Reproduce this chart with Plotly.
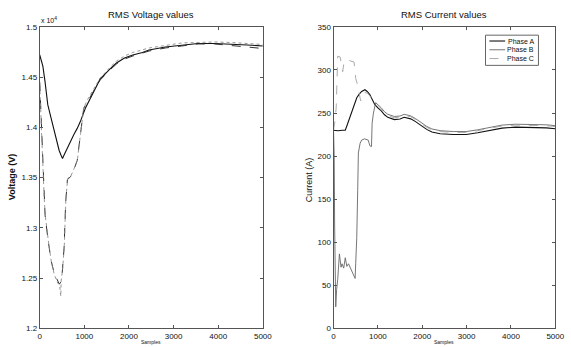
import plotly.graph_objects as go

# ---------------- Data ----------------
# Voltage (V)
va_x = [0, 30, 70, 120, 180, 250, 325, 400, 435, 480, 510, 540, 580, 620, 700, 765, 840, 912, 1022, 1205,
        1352, 1571, 1718, 1900, 2084, 2300, 2450, 2817, 3183, 3549, 3916, 4282, 4648, 5000]
va_y = [14720, 14680, 14610, 14450, 14226, 14100, 13960, 13830, 13770, 13720, 13690, 13720, 13760, 13800,
        13870, 13930, 13990, 14060, 14190, 14350, 14480, 14580, 14640, 14690, 14720, 14745, 14770, 14800,
        14820, 14835, 14835, 14830, 14820, 14810]

vb_x = [0, 20, 60, 90, 100, 120, 180, 253, 325, 400, 440, 472, 490, 510, 545, 582, 620, 692, 765, 840,
        912, 950, 985, 1100, 1205, 1352, 1571, 1718, 1900, 2084, 2450, 2817, 3183, 3549, 3916, 4282,
        4648, 5000]
vb_y = [14450, 14200, 13700, 13450, 13260, 13125, 12900, 12680, 12545, 12464, 12440, 12460, 12480, 12590,
        12800, 13257, 13480, 13510, 13580, 13670, 13930, 14060, 14190, 14280, 14360, 14470, 14570, 14630,
        14680, 14710, 14760, 14790, 14810, 14830, 14830, 14815, 14800, 14785]

vc_x = [0, 20, 60, 90, 110, 130, 190, 260, 330, 405, 445, 472, 480, 515, 550, 585, 625, 700, 770, 845,
        915, 955, 990, 1100, 1205, 1352, 1571, 1718, 1900, 2084, 2450, 2817, 3183, 3549, 3916, 4282,
        4648, 5000]
vc_y = [14420, 14150, 13650, 13400, 13220, 13100, 12880, 12660, 12530, 12450, 12430, 12320, 12470, 12600,
        12820, 13280, 13490, 13520, 13590, 13680, 13940, 14070, 14200, 14300, 14375, 14490, 14595, 14660,
        14710, 14745, 14790, 14815, 14840, 14845, 14850, 14845, 14835, 14825]

# Current (A)
ia_x = [0, 100, 200, 265, 300, 340, 413, 470, 524, 580, 635, 708, 760, 818, 870, 929, 1000, 1077, 1150,
        1224, 1372, 1500, 1593, 1740, 1850, 1962, 2100, 2219, 2405, 2700, 2993, 3250, 3510, 3800, 4100,
        4544, 4800, 5000]
ia_y = [230, 229.5, 230, 230, 235, 241, 252.6, 262, 267.7, 272, 275, 277, 275, 271.5, 266, 260, 256,
        252.6, 248, 245, 242.4, 243, 245, 243.2, 240, 235.6, 231, 228, 226, 225, 225, 227, 230, 232.5,
        233.6, 233.6, 232.8, 231.8]

ib_x = [0, 15, 25, 35, 50, 70, 95, 133, 170, 192, 230, 265, 300, 338, 400, 453, 487, 500, 524, 545, 560,
        600, 635, 700, 782, 820, 856, 870, 900, 950, 1000, 1077, 1150, 1224, 1372, 1500, 1593, 1740, 1850,
        1962, 2100, 2219, 2405, 2700, 2993, 3250, 3510, 3800, 4100, 4544, 4800, 5000]
ib_y = [230, 200, 120, 30, 25, 45, 57, 86.5, 71, 75, 70, 82, 72, 75, 68, 60, 58, 75, 105.4, 160, 203.6,
        215, 218.6, 220, 218.6, 212, 211, 238, 250, 262, 260, 256, 251.5, 248.5, 246, 246.5, 248.5, 246.7,
        243.5, 239, 234.5, 231.5, 229.5, 228.5, 228.5, 230.5, 233.5, 236, 237, 237, 236.3, 235.3]

ic_x = [0, 30, 60, 95, 150, 206, 243, 354, 464, 502, 540, 612, 660, 700, 760, 818, 870, 929, 1000, 1077,
        1150, 1224, 1372, 1500, 1593, 1740, 1850, 1962, 2100, 2219, 2405, 2700, 2993, 3250, 3510, 3800,
        4100, 4544, 4800, 5000]
ic_y = [230, 240, 256, 316, 315, 298, 311, 311, 309, 290, 283, 264, 270, 274, 273, 270, 266, 261, 257.5,
        254, 250, 247, 244.5, 245.5, 247.5, 245.7, 242.5, 238, 233.5, 230.5, 228.5, 227.5, 227.5, 229.5,
        232.5, 235, 236, 236, 235.3, 234.3]

phase_names = ["Phase A", "Phase B", "Phase C"]
v_tickvals = [12000, 12500, 13000, 13500, 14000, 14500, 15000]
v_ticktext = ["1.2", "1.25", "1.3", "1.35", "1.4", "1.45", "1.5"]
x_tickvals = [0, 1000, 2000, 3000, 4000, 5000]
i_tickvals = [0, 50, 100, 150, 200, 250, 300, 350]

# ---------------- Figure ----------------
fig = go.Figure()
FONT = "Liberation Sans, Arial, sans-serif"

cur_styles = [
    dict(color="#111111", width=1.1, dash="solid"),
    dict(color="#666666", width=0.9, dash="solid"),
    dict(color="#a0a0a0", width=0.9, dash="dash"),
]
volt_styles = [
    dict(color="#111111", width=1.1, dash="solid"),
    dict(color="#333333", width=1, dash="dash"),
    dict(color="#8a8a8a", width=0.9, dash="dot"),
]

for xs, ys, st, nm in zip([va_x, vb_x, vc_x], [va_y, vb_y, vc_y], volt_styles, phase_names):
    fig.add_trace(go.Scatter(x=xs, y=ys, mode="lines", line=st, name=nm, showlegend=False,
                             xaxis="x", yaxis="y"))
for xs, ys, st, nm in zip([ia_x, ib_x, ic_x], [ia_y, ib_y, ic_y], cur_styles, phase_names):
    fig.add_trace(go.Scatter(x=xs, y=ys, mode="lines", line=st, name=nm, showlegend=False,
                             xaxis="x2", yaxis="y2"))

axis_common = dict(showgrid=False, zeroline=False, showline=True, linecolor="#555555", linewidth=1,
                   mirror="ticks", ticks="inside", ticklen=3, tickcolor="#555555",
                   tickfont=dict(family=FONT, size=8, color="#111111"))

fig.update_layout(
    width=571, height=347,
    margin=dict(l=0, r=0, t=0, b=0),
    paper_bgcolor="white", plot_bgcolor="white",
    xaxis=dict(domain=[0.0674, 0.4658], range=[0, 5000], tickvals=x_tickvals, anchor="y", **axis_common),
    yaxis=dict(domain=[0.0403, 0.9323], range=[12000, 15000], tickvals=v_tickvals, ticktext=v_ticktext,
               anchor="x", **axis_common),
    xaxis2=dict(domain=[0.592, 0.988], range=[0, 5000], tickvals=x_tickvals, anchor="y2", **axis_common),
    yaxis2=dict(domain=[0.0403, 0.9323], range=[0, 350], tickvals=i_tickvals, anchor="x2", **axis_common),
    showlegend=False,
)

# Manual compact legend (MATLAB style) in the current plot
W, H = 571.0, 347.0
bx0, bx1, by0, by1 = 493, 547, 32, 63
fig.add_shape(type="rect", xref="paper", yref="paper", x0=bx0 / W, x1=bx1 / W,
              y0=1 - by1 / H, y1=1 - by0 / H, line=dict(color="#666666", width=1), fillcolor="white")
row_y = [38, 47, 56]
for ry, st, nm in zip(row_y, cur_styles, phase_names):
    fig.add_shape(type="line", xref="paper", yref="paper", x0=497 / W, x1=513 / W,
                  y0=1 - ry / H, y1=1 - ry / H, line=st)
    fig.add_annotation(text=nm, x=544 / W, y=1 - ry / H, xref="paper", yref="paper",
                       xanchor="right", yanchor="middle", showarrow=False,
                       font=dict(family=FONT, size=7, color="#111111"))

ann_font = dict(family=FONT, size=9.5, color="#111111")
fig.add_annotation(text="RMS Voltage values", x=152 / W, y=1 - 11 / H, xref="paper", yref="paper",
                   xanchor="center", yanchor="middle", showarrow=False, font=ann_font)
fig.add_annotation(text="RMS Current values", x=451 / W, y=1 - 11 / H, xref="paper", yref="paper",
                   xanchor="center", yanchor="middle", showarrow=False, font=ann_font)
fig.add_annotation(text="x 10<sup>4</sup>", x=38 / W, y=1 - 23 / H, xref="paper", yref="paper",
                   xanchor="left", yanchor="bottom", showarrow=False,
                   font=dict(family=FONT, size=7, color="#111111"))
fig.add_annotation(text="<b>Voltage (V)</b>", x=11 / W, y=1 - 178 / H, xref="paper", yref="paper",
                   xanchor="center", yanchor="middle", textangle=-90, showarrow=False,
                   font=dict(family=FONT, size=9, color="#111111"))
fig.add_annotation(text="Current (A)", x=313 / W, y=1 - 180 / H, xref="paper", yref="paper",
                   xanchor="center", yanchor="middle", textangle=-90, showarrow=False,
                   font=dict(family=FONT, size=9, color="#111111"))
fig.add_annotation(text="Samples", x=152 / W, y=1 - 342 / H, xref="paper", yref="paper",
                   xanchor="center", yanchor="top", showarrow=False,
                   font=dict(family=FONT, size=5, color="#111111"))
fig.add_annotation(text="Samples", x=451 / W, y=1 - 342 / H, xref="paper", yref="paper",
                   xanchor="center", yanchor="top", showarrow=False,
                   font=dict(family=FONT, size=5, color="#111111"))

fig.write_html("out.html")
